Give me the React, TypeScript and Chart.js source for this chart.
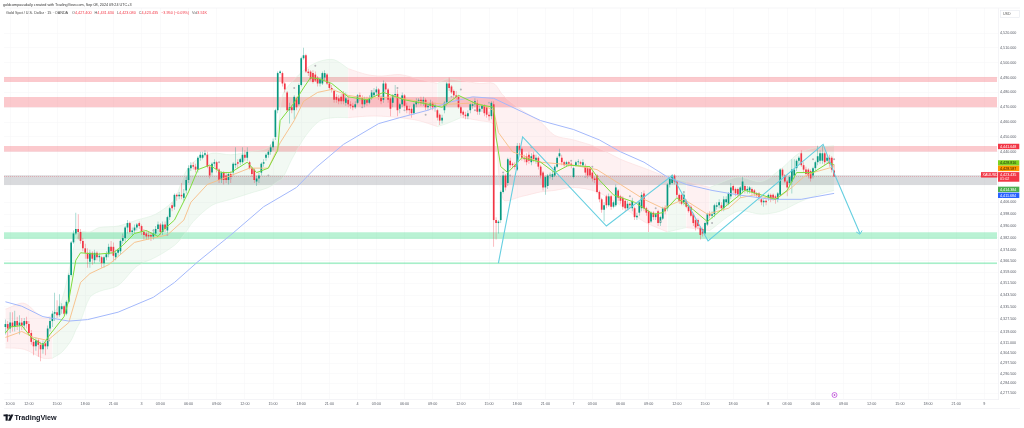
import React, { useEffect, useRef } from "react";
import { Chart, registerables } from "chart.js";

Chart.register(...registerables);

const opens = [
  4322,4324,4321,4325,4322,4326,4323,4325,4323,4326,4324,4318,
  4312,4309,4313,4310,4307,4311,4309,4321,4326,4331,4332,4330,
  4334,4336,4331,4339,4357,4379,4385,4388,4386,4380,4375,4372,
  4366,4372,4367,4372,4369,4369,4365,4369,4371,4376,4376,4369,
  4372,4373,4380,4382,4389,4392,4386,4387,4389,4392,4390,4386,
  4385,4384,4384,4383,4385,4388,4391,4386,4391,4387,4396,4404,
  4403,4411,4410,4411,4409,4414,4421,4429,4431,4430,4428,4436,
  4436,4438,4438,4430,4426,4432,4433,4428,4421,4426,4424,4421,
  4425,4426,4431,4433,4433,4433,4438,4436,4433,4429,4428,4420,
  4422,4426,4432,4436,4438,4440,4443,4450,4468,4493,4493,4486,
  4480,4468,4470,4468,4476,4472,4485,4503,4505,4494,4494,4493,
  4492,4490,4486,4486,4490,4492,4486,4483,4481,4477,4476,4477,
  4479,4473,4475,4472,4471,4470,4473,4478,4476,4472,4475,4473,
  4476,4478,4480,4482,4477,4475,4486,4482,4476,4473,4478,4479,
  4469,4472,4478,4471,4469,4469,4466,4472,4474,4475,4473,4475,
  4470,4471,4473,4470,4468,4465,4461,4468,4473,4486,4484,4481,
  4478,4477,4470,4467,4465,4464,4468,4471,4472,4473,4467,4469,
  4471,4470,4465,4464,4472,4394,4392,4394,4413,4424,4419,4434,
  4432,4431,4428,4444,4442,4436,4437,4438,4433,4438,4434,4436,
  4430,4426,4416,4417,4424,4423,4424,4430,4437,4436,4433,4431,
  4433,4432,4423,4431,4433,4433,4431,4430,4429,4429,4426,4422,
  4424,4413,4408,4401,4410,4404,4410,4403,4404,4414,4410,4409,
  4407,4402,4405,4402,4402,4396,4399,4402,4412,4402,4400,4393,
  4399,4396,4400,4392,4395,4402,4402,4418,4419,4424,4420,4411,
  4411,4406,4407,4404,4403,4398,4394,4394,4389,4388,4385,4391,
  4398,4397,4398,4403,4404,4404,4402,4406,4405,4410,4417,4415,
  4415,4411,4414,4417,4414,4414,4415,4414,4412,4412,4408,4406,
  4407,4409,4411,4411,4410,4408,4411,4428,4424,4420,4419,4420,
  4424,4429,4434,4439,4431,4428,4428,4427,4424,4429,4433,4434,
  4434,4439,4434,4436,4436,4427.4,
];
const highs = [
  4327,4326,4332,4332,4333,4329,4330,4328,4328,4329,4326,4320,
  4314,4315,4314,4312,4313,4313,4323,4328,4333,4345,4340,4344,
  4338,4337,4340,4358,4380,4387,4399,4398,4388,4382,4378,4375,
  4374,4373,4374,4373,4372,4370,4370,4373,4378,4380,4379,4374,
  4375,4381,4385,4390,4394,4393,4389,4391,4392,4393,4391,4388,
  4387,4386,4386,4388,4390,4393,4392,4393,4393,4397,4403,4406,
  4412,4412,4413,4419,4415,4423,4431,4433,4433,4432,4437,4440,
  4440,4441,4440,4431,4433,4435,4434,4429,4427,4427,4426,4426,
  4427,4433,4443,4435,4436,4443,4441,4443,4434,4430,4429,4424,
  4426,4433,4435,4439,4441,4445,4449,4469,4494,4495,4494,4487,
  4481,4473,4471,4478,4477,4486,4504,4510,4506,4496,4495,4495,
  4494,4491,4490,4494,4495,4493,4487,4485,4482,4479,4478,4479,
  4481,4480,4477,4474,4473,4474,4479,4480,4478,4477,4477,4478,
  4481,4483,4484,4483,4478,4488,4487,4483,4477,4479,4485,4482,
  4473,4480,4479,4473,4471,4470,4473,4476,4476,4477,4477,4476,
  4473,4475,4474,4473,4469,4466,4465,4474,4487,4490,4485,4482,
  4481,4478,4471,4468,4467,4468,4473,4474,4476,4475,4471,4472,
  4472,4471,4467,4474,4474,4396,4394,4414,4425,4425,4436,4436,
  4433,4433,4446,4446,4443,4438,4439,4440,4439,4440,4438,4437,
  4431,4427,4424,4425,4426,4427,4431,4437,4442,4438,4434,4434,
  4434,4433,4430,4434,4435,4434,4435,4432,4430,4430,4427,4423,
  4425,4414,4409,4406,4411,4412,4411,4407,4418,4415,4411,4410,
  4408,4407,4406,4409,4403,4399,4407,4413,4414,4403,4401,4400,
  4400,4399,4401,4397,4403,4404,4419,4423,4425,4425,4421,4412,
  4412,4413,4408,4405,4404,4399,4395,4395,4390,4389,4393,4399,
  4400,4400,4405,4406,4408,4406,4410,4410,4413,4419,4418,4416,
  4416,4417,4423,4418,4417,4417,4416,4415,4413,4413,4409,4408,
  4408,4412,4412,4412,4411,4413,4429,4429,4425,4421,4424,4435,
  4435,4435,4437,4441,4433,4430,4429,4428,4430,4434,4444,4441,
  4444,4440,4438,4438,4437,4431.63,
];
const lows = [
  4317,4312,4318,4319,4319,4320,4317,4320,4320,4321,4316,4310,
  4303,4306,4302,4299,4304,4303,4307,4319,4322,4326,4328,4329,
  4331,4330,4330,4338,4356,4378,4384,4381,4378,4373,4368,4362,
  4362,4364,4365,4367,4366,4362,4362,4367,4369,4371,4366,4367,
  4370,4371,4378,4379,4385,4385,4384,4385,4387,4388,4384,4381,
  4381,4381,4380,4381,4384,4386,4384,4384,4386,4385,4394,4400,
  4401,4407,4408,4408,4407,4412,4419,4427,4428,4426,4426,4434,
  4435,4437,4429,4422,4424,4430,4426,4419,4419,4418,4419,4418,
  4419,4424,4429,4429,4431,4432,4434,4434,4428,4423,4419,4417,
  4419,4424,4430,4434,4436,4438,4441,4448,4466,4492,4484,4480,
  4467,4459,4466,4462,4468,4471,4484,4502,4493,4491,4488,4486,
  4487,4484,4484,4485,4488,4485,4482,4480,4473,4473,4472,4472,
  4472,4471,4470,4469,4468,4469,4472,4474,4470,4470,4471,4472,
  4475,4477,4478,4475,4472,4473,4480,4473,4464,4470,4476,4464,
  4466,4470,4469,4466,4465,4463,4465,4470,4472,4471,4471,4468,
  4468,4469,4468,4467,4461,4458,4459,4466,4471,4481,4479,4476,
  4475,4469,4464,4463,4462,4462,4466,4469,4470,4465,4465,4467,
  4464,4463,4461,4462,4376,4381,4385,4392,4412,4414,4417,4429,
  4429,4428,4427,4439,4434,4433,4431,4432,4431,4433,4432,4428,
  4422,4414,4411,4415,4422,4421,4423,4429,4436,4431,4430,4430,
  4430,4429,4422,4430,4431,4430,4430,4424,4422,4423,4420,4419,
  4412,4406,4399,4393,4402,4403,4401,4402,4403,4407,4405,4401,
  4400,4401,4402,4400,4394,4394,4397,4400,4400,4397,4386,4392,
  4394,4394,4390,4390,4394,4398,4400,4416,4418,4418,4409,4405,
  4404,4404,4402,4399,4396,4390,4387,4388,4381,4383,4384,4390,
  4395,4395,4396,4401,4402,4400,4400,4404,4404,4408,4412,4410,
  4409,4409,4412,4412,4412,4412,4411,4410,4409,4407,4404,4403,
  4404,4407,4406,4407,4405,4406,4410,4423,4419,4410,4416,4412,
  4422,4427,4432,4430,4426,4424,4422,4420,4422,4427,4431,4432,
  4432,4431,4432,4430,4426,4423.08,
];
const closes = [
  4324,4321,4325,4322,4326,4323,4325,4323,4326,4324,4318,4312,
  4309,4313,4310,4307,4311,4309,4321,4326,4331,4332,4330,4336,
  4336,4331,4339,4357,4379,4385,4388,4386,4380,4375,4372,4368,
  4372,4368,4372,4369,4370,4365,4369,4371,4376,4373,4370,4372,
  4374,4380,4382,4389,4392,4386,4387,4389,4391,4390,4386,4384,
  4383,4383,4383,4385,4388,4391,4386,4391,4388,4396,4402,4402,
  4411,4410,4411,4410,4412,4421,4429,4431,4430,4428,4436,4438,
  4438,4439,4430,4424,4432,4433,4428,4421,4426,4421,4421,4425,
  4423,4432,4432,4432,4435,4438,4436,4440,4429,4425,4421,4422,
  4424,4432,4433,4438,4440,4443,4447,4468,4493,4494,4486,4482,
  4468,4470,4468,4477,4470,4485,4503,4505,4494,4493,4489,4487,
  4488,4486,4489,4493,4493,4486,4483,4482,4475,4475,4474,4474,
  4474,4476,4472,4471,4470,4472,4478,4477,4472,4475,4473,4476,
  4480,4480,4482,4477,4474,4486,4482,4475,4469,4478,4479,4468,
  4472,4478,4471,4468,4468,4466,4472,4474,4475,4473,4475,4470,
  4471,4473,4470,4471,4463,4461,4463,4473,4486,4483,4480,4478,
  4477,4470,4466,4465,4464,4466,4472,4472,4474,4467,4469,4471,
  4466,4465,4464,4473,4394,4392,4393,4413,4424,4416,4435,4431,
  4431,4430,4444,4441,4436,4435,4433,4434,4437,4435,4436,4430,
  4424,4416,4423,4424,4424,4425,4430,4436,4439,4433,4431,4433,
  4432,4431,4429,4433,4433,4432,4433,4426,4424,4424,4422,4421,
  4413,4408,4401,4404,4404,4410,4403,4406,4416,4409,4407,4403,
  4402,4405,4404,4407,4396,4397,4406,4411,4402,4399,4392,4399,
  4396,4398,4392,4396,4402,4400,4418,4422,4424,4420,4411,4407,
  4405,4411,4403,4400,4397,4392,4389,4390,4384,4385,4392,4398,
  4397,4398,4404,4404,4406,4402,4408,4408,4412,4416,4414,4412,
  4411,4416,4420,4414,4415,4416,4413,4412,4411,4409,4406,4407,
  4406,4411,4408,4409,4408,4412,4428,4424,4420,4416,4423,4428,
  4428,4434,4436,4431,4428,4425,4424,4422,4429,4433,4437,4439,
  4439,4433,4436,4432,4428,4423.435,
];

const fastBars = [0,2,7,11,16,19,25,27,30,32,39,46,50,55,60,65,67,72,78,82,87,92,96,103,107,112,116,117,123,127,130,134,139,146,154,161,170,180,186,193,201,208,209,211,214,220,228,234,240,249,253,259,268,276,280,286,293,299,305,312,315,322,328,333,337,344,351,353];
const fastValues = [4318,4322,4323,4315,4310,4317,4329,4340,4367,4372,4371,4372,4377,4385,4387,4383,4387,4394,4413,4428,4431,4426,4426,4433,4426,4429,4441,4461,4473,4483,4490,4489,4486,4477,4475,4480,4475,4472,4470,4478,4472,4470,4450,4430,4426,4436,4433,4426,4431,4430,4421,4411,4406,4398,4399,4409,4401,4393,4401,4410,4414,4411,4408,4414,4426,4426,4433,4431];

const slowBars = [0,7,12,18,27,32,36,44,55,63,69,76,79,86,96,104,112,117,123,127,133,139,146,154,165,180,188,201,208,210,216,228,242,252,262,272,280,289,299,308,313,319,327,330,335,340,344,353];
const slowValues = [4315,4319,4315,4313,4325,4352,4358,4364,4379,4382,4384,4394,4406,4418,4424,4429,4429,4446,4461,4474,4480,4482,4478,4476,4477,4473,4472,4473,4468,4453,4440,4433,4431,4428,4418,4408,4402,4408,4398,4402,4409,4411,4408,4410,4416,4423,4426,4430];

const longBars = [0,7,16,27,35,48,63,72,82,96,110,124,132,144,159,168,180,188,199,208,220,228,242,253,262,272,282,290,301,312,326,339,353];
const longValues = [4339,4336,4329,4326,4327,4332,4342,4352,4366,4384,4403,4416,4429,4445,4459,4463,4468,4473,4477,4476,4467,4461,4455,4448,4440,4433,4423,4418,4414,4411,4408,4408,4412];

const cloudBars = [0,8,16,20,24,28,30,32,36,40,48,56,64,72,76,80,88,96,104,112,116,118,122,128,134,140,146,154,160,168,176,184,188,194,202,208,212,220,228,234,242,252,262,272,282,290,300,312,322,330,338,346,353];
const cloudUpper = [4334,4338,4328,4330,4340,4367,4381,4386,4386,4389,4390,4394,4398,4408,4424,4433,4439,4438,4440,4443,4455,4478,4487,4496,4501,4502,4496,4492,4491,4492,4489,4486,4489,4488,4486,4486,4478,4468,4460,4451,4448,4443,4435,4429,4423,4420,4416,4423,4420,4428,4439,4443,4444];
const cloudLower = [4308,4307,4301,4301,4305,4313,4320,4326,4342,4346,4350,4363,4369,4377,4384,4393,4404,4408,4412,4416,4420,4422,4435,4451,4461,4463,4463,4464,4464,4463,4461,4457,4459,4463,4461,4458,4408,4410,4413,4414,4416,4413,4404,4393,4386,4389,4387,4400,4398,4400,4406,4411,4414];
const greenCloudRanges = [[20,146],[184,194],[282,290],[300,353]];
const redCloudRanges = [[0,20],[146,184],[194,282],[290,300]];

const zigBars = [210,220.3,256,284,299.3,348.3,353.4,364];
const zigValues = [4365,4450,4390,4424,4380,4445,4424,4385];
const arrowBars = [362.4,364,364.9];
const arrowValues = [4386,4384.5,4387];

const dotBars = [18.6,50,63,69,91,96,112,123,132,152,156,167,170,179,190,194,200,206,212,215,224,241,247,250,266,277,279,289,301,344,353];
const dotValues = [4313,4383,4387,4384,4433,4422,4424,4483,4498,4470,4481,4483,4468,4465,4477,4482,4468,4473,4426,4424,4443,4434,4423,4430,4410,4402,4393,4413,4392,4435,4435];

const zoneLows = [4487,4470,4440.1,4417.6,4381.3,4364.4];
const zoneHighs = [4490.4,4476.9,4443.9,4424.2,4385.8,4365.5];
const zoneColors = ["rgba(242,54,69,.27)","rgba(242,54,69,.27)","rgba(242,54,69,.27)","rgba(120,123,134,.28)","rgba(2,209,101,.28)","rgba(2,209,101,.35)"];

const priceTicks = [4520,4510,4500,4490,4480,4470,4460,4450,4440,4406,4398,4390,4382,4374,4366.5,4359,4351.5,4343.5,4335.5,4327.5,4319,4311,4304.5,4297.5,4290.5,4284,4277.5];
const timeTickBars = [2,10,22,34,46,58,66,78,90,102,114,126,138,150,158,170,182,194,206,218,230,242,250,262,274,286,298,310,325,333,345,357,369,381,393,405,417];
const timeTickLabels = ["10:00","12:00","15:00","18:00","21:00","3","03:00","06:00","09:00","12:00","15:00","18:00","21:00","4","03:00","06:00","09:00","12:00","15:00","18:00","21:00","7","03:00","06:00","09:00","12:00","15:00","18:00","8","03:00","06:00","09:00","12:00","15:00","18:00","21:00","9"];

const lastPrice = 4423.435;
const tagLabels = ["4,441.648","4,428.816","4,428.587","4,423.435","4,414.384","4,411.684"];
const tagAnchors = [4443.6,4432.5,4428.8,4424.5,4414.7,4410.7];
const tagFills = ["#f23645","#7ed321","#ff9800","#f23645","#4caf50","#2962ff"];
const tagInks = ["#ffffff","#1a2a10","#2a1a00","#ffffff","#ffffff","#ffffff"];

const headerCredit = "goldcompassdaily created with TradingView.com, Sep 08, 2024 09:24 UTC+3";
const headerSymbol = "Gold Spot / U.S. Dollar · 15 · OANDA";
const headerOhlc = ["O4,427.400","H4,431.630","L4,423.080","C4,423.435","−3.950 (−0.09%)"];
const headerVolume = "Vol3.51K";

const UP = "#089981";
const DOWN = "#f23645";
const FONT = '"Liberation Sans", Arial, sans-serif';

const pairs = (xs: number[], ys: number[]) => xs.map((x, i) => ({ x, y: ys[i] }));

const overlay = {
  id: "overlay",
  beforeDatasetsDraw(chart: any) {
    const { ctx, chartArea: a, scales: { y } } = chart;
    ctx.save();
    zoneLows.forEach((lo, i) => {
      ctx.fillStyle = zoneColors[i];
      const t = y.getPixelForValue(zoneHighs[i]);
      const b = y.getPixelForValue(lo);
      ctx.fillRect(a.left, t, a.right - a.left - 1, b - t);
    });
    ctx.strokeStyle = "rgba(242,54,69,.7)";
    ctx.lineWidth = 0.4;
    ctx.setLineDash([1, 1]);
    const py = y.getPixelForValue(lastPrice);
    ctx.beginPath();
    ctx.moveTo(a.left, py);
    ctx.lineTo(a.right, py);
    ctx.stroke();
    ctx.restore();
  },
  afterDraw(chart: any) {
    const { ctx, chartArea: a, scales: { y } } = chart;
    ctx.save();
    ctx.textBaseline = "middle";
    // axis frame
    ctx.strokeStyle = "#e8e9ee";
    ctx.lineWidth = 0.5;
    ctx.beginPath();
    ctx.moveTo(a.left, a.top);
    ctx.lineTo(1020, a.top);
    ctx.moveTo(a.left, 408.5);
    ctx.lineTo(1020, 408.5);
    ctx.stroke();
    // currency box
    ctx.strokeStyle = "#e0e3eb";
    ctx.strokeRect(1000.5, 10.5, 19, 7);
    ctx.fillStyle = "#555";
    ctx.font = `3.6px ${FONT}`;
    ctx.textAlign = "left";
    ctx.fillText("USD", 1003, 14.2);
    // price tags
    tagLabels.forEach((label, i) => {
      const cy = y.getPixelForValue(tagAnchors[i]);
      const h = i === 3 ? 9.6 : 5.4;
      ctx.fillStyle = tagFills[i];
      ctx.fillRect(998, cy - 2.7, 21.3, h);
      ctx.fillStyle = tagInks[i];
      ctx.font = `3.7px ${FONT}`;
      ctx.fillText(label, 1000, cy + 0.2);
      if (i === 3) ctx.fillText("01:02", 1000, cy + 4.6);
    });
    const sy = y.getPixelForValue(tagAnchors[3]);
    ctx.fillStyle = DOWN;
    ctx.fillRect(981, sy - 2.7, 16.4, 5.4);
    ctx.fillStyle = "#fff";
    ctx.fillText("XAUUSD", 982.5, sy + 0.2);
    // header
    ctx.fillStyle = "#333";
    ctx.font = `3.75px ${FONT}`;
    ctx.fillText(headerCredit, 3, 4.7);
    ctx.fillStyle = "#444";
    ctx.fillText(headerSymbol, 6, 13.3);
    let hx = 72;
    headerOhlc.forEach((t) => {
      const signed = t[0] === "−";
      ctx.fillStyle = "#555";
      if (!signed) ctx.fillText(t[0], hx, 13.3);
      const lead = signed ? 0 : ctx.measureText(t[0]).width;
      ctx.fillStyle = DOWN;
      const body = signed ? t : t.slice(1);
      ctx.fillText(body, hx + lead, 13.3);
      hx += lead + ctx.measureText(body).width + 3;
    });
    ctx.fillStyle = "#555";
    ctx.fillText(headerVolume.slice(0, 3), hx, 13.3);
    const vw = ctx.measureText("Vol").width;
    ctx.fillStyle = DOWN;
    ctx.fillText(headerVolume.slice(3), hx + vw, 13.3);
    // event marker
    ctx.strokeStyle = "#c04fe0";
    ctx.lineWidth = 0.8;
    ctx.beginPath();
    ctx.arc(834.5, 395, 2.5, 0, Math.PI * 2);
    ctx.stroke();
    ctx.fillStyle = "#9c27b0";
    ctx.beginPath();
    ctx.arc(834.5, 395, 0.8, 0, Math.PI * 2);
    ctx.fill();
    // logo + wordmark
    ctx.fillStyle = "#131722";
    ctx.fillRect(3.5, 414.5, 4.2, 1.8);
    ctx.fillRect(5.6, 414.5, 2.1, 6.2);
    ctx.beginPath();
    ctx.arc(9.2, 415.6, 1, 0, Math.PI * 2);
    ctx.fill();
    ctx.beginPath();
    ctx.moveTo(10.8, 414.5);
    ctx.lineTo(13.4, 414.5);
    ctx.lineTo(10.6, 420.7);
    ctx.lineTo(8, 420.7);
    ctx.closePath();
    ctx.fill();
    ctx.font = `600 7.2px ${FONT}`;
    ctx.fillText("TradingView", 14.5, 418);
    ctx.restore();
  },
};

export default function App() {
  const ref = useRef<HTMLCanvasElement>(null);
  useEffect(() => {
    document.body.style.margin = "0";
    const slot = closes.map((_, i) => i);
    const colour = closes.map((c, i) => (c >= opens[i] ? UP : DOWN));
    const wickColour = closes.map((c, i) => (c >= opens[i] ? "rgba(8,153,129,.55)" : "rgba(242,54,69,.55)"));
    const cloud = (ranges: number[][], stroke: string, fill: string) =>
      ranges.flatMap(([a, b]) => {
        const picked = cloudBars.map((k, i) => i).filter((i) => cloudBars[i] >= a && cloudBars[i] <= b);
        return [
          { type: "line", data: picked.map((i) => ({ x: cloudBars[i], y: cloudUpper[i] })), borderColor: stroke, borderWidth: 0.5, pointRadius: 0, fill: false, order: 6, tension: 0.3 },
          { type: "line", data: picked.map((i) => ({ x: cloudBars[i], y: cloudLower[i] })), borderColor: stroke, borderWidth: 0.5, pointRadius: 0, fill: "-1", backgroundColor: fill, order: 6, tension: 0.3 },
        ];
      });
    const line = (xs: number[], ys: number[], color: string, width: number, order: number) => ({
      type: "line", data: pairs(xs, ys), borderColor: color, borderWidth: width, pointRadius: 0, fill: false, order, tension: 0,
    });
    const chart = new Chart(ref.current as any, {
      type: "bar",
      data: {
        datasets: [
          ...cloud(greenCloudRanges, "#d9efdc", "rgba(76,175,80,.07)"),
          ...cloud(redCloudRanges, "#fbd6d6", "rgba(242,54,69,.07)"),
          {
            type: "bar", data: slot.map((i) => ({ x: i, y: [lows[i], highs[i]] })), backgroundColor: wickColour,
            barThickness: 0.6, grouped: false, borderWidth: 0, inflateAmount: 0, order: 5,
          },
          {
            type: "bar", data: slot.map((i) => ({ x: i, y: [opens[i], closes[i]] })), backgroundColor: colour,
            barThickness: 1.7, grouped: false, borderWidth: 0, inflateAmount: 0, minBarLength: 0.8, order: 4,
          },
          line(longBars, longValues, "#a3b8fb", 1, 3),
          line(slowBars, slowValues, "#f7bd85", 0.9, 3),
          line(fastBars, fastValues, "#7edc3c", 1, 2),
          line(zigBars, zigValues, "#66cfe0", 1.1, 1),
          line(arrowBars, arrowValues, "#66cfe0", 1, 1),
          {
            type: "scatter", data: pairs(dotBars, dotValues), backgroundColor: "#b4b4b8", borderWidth: 0, pointRadius: 1, order: 1,
          },
        ] as any,
      },
      options: {
        responsive: false,
        animation: false,
        events: [],
        layout: { padding: { left: 3, top: 8, right: 0, bottom: 19 } },
        plugins: { legend: { display: false }, tooltip: { enabled: false }, title: { display: false } },
        scales: {
          x: {
            type: "linear", min: -0.6, max: 422.8, offset: false,
            grid: { color: "#f4f5f7", lineWidth: 0.5, drawTicks: false, offset: false },
            border: { color: "#e8e9ee", width: 0.5 },
            afterBuildTicks: (s: any) => { s.ticks = timeTickBars.map((value) => ({ value })); },
            afterFit: (s: any) => { s.height = 10; },
            ticks: {
              autoSkip: false, maxRotation: 0, minRotation: 0, padding: 3,
              color: "#5a5e68", font: { size: 3.7, family: FONT },
              callback: (v: any) => { const i = timeTickBars.indexOf(Number(v)); return i < 0 ? "" : timeTickLabels[i]; },
            },
          },
          y: {
            type: "linear", position: "right", min: 4273.53, max: 4536.84,
            grid: { color: "#f4f5f7", lineWidth: 0.5, drawTicks: false },
            border: { color: "#e8e9ee", width: 0.5 },
            afterBuildTicks: (s: any) => { s.ticks = priceTicks.map((value) => ({ value })); },
            afterFit: (s: any) => { s.width = 26; },
            ticks: {
              autoSkip: false, padding: 2,
              color: "#5a5e68", font: { size: 3.7, family: FONT },
              callback: (v: any) => Number(v).toLocaleString("en-US", { minimumFractionDigits: 3, maximumFractionDigits: 3 }),
            },
          },
        },
      } as any,
      plugins: [overlay as any],
    });
    return () => chart.destroy();
  }, []);
  return <canvas ref={ref} width={1024} height={428} style={{ display: "block" }} />;
}
